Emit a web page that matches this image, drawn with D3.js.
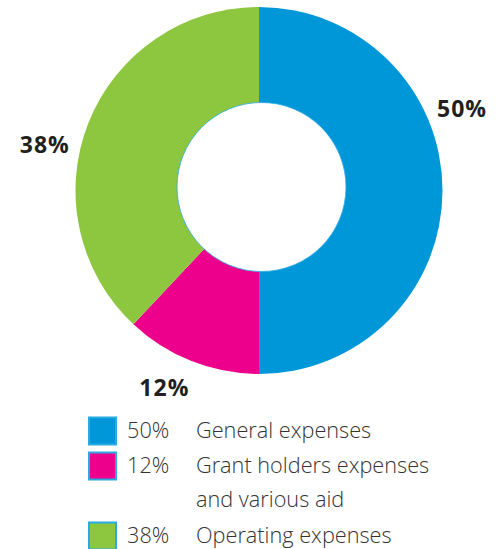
<!DOCTYPE html>
<html><head><meta charset="utf-8">
<script src="https://cdn.jsdelivr.net/npm/d3@7"></script>
<style>body{margin:0;background:#fff}svg{display:block}</style>
</head><body>
<svg id="c" width="500" height="549"></svg>
<script>
const categories = ["General expenses", "Grant holders expenses and various aid", "Operating expenses"];
const legendLines = [["General expenses"], ["Grant holders expenses", "and various aid"], ["Operating expenses"]];
const values = [50, 12, 38];
const colors = ["#0097D9", "#EC008C", "#8DC63F"];

const svg = d3.select("#c");
const cx = 259, cy = 190.5, R = 183.5;
const g = svg.append("g").attr("transform", `translate(${cx},${cy})`);
const pie = d3.pie().sort(null).value(d => d)(values);
const arc = d3.arc().innerRadius(0).outerRadius(R);
g.selectAll("path").data(pie).join("path")
  .attr("d", arc).attr("fill", (d, i) => colors[i]);
// hole
g.append("circle").attr("cx", 2.5).attr("cy", -3.5).attr("r", 84.5)
  .attr("fill", "#fff").attr("stroke", "#29ABE2").attr("stroke-width", 0.8);

// outside labels
const labelShift = [-22, 4, -9.6]; // degrees offset from mid-angle
const labelR = 219;
g.selectAll("text.lbl").data(pie).join("text").attr("class", "lbl")
  .each(function(d, i) {
    const a = (d.startAngle + d.endAngle) / 2 + labelShift[i] * Math.PI / 180;
    d3.select(this).attr("x", labelR * Math.sin(a)).attr("y", -labelR * Math.cos(a));
  })
  .attr("dy", "0.36em").attr("text-anchor", "middle")
  .attr("font-family", "'Open Sans', sans-serif").attr("font-weight", 700)
  .attr("font-size", 23).attr("letter-spacing", 1).attr("fill", "#231F20")
  .text(d => d.data + "%");

// legend
const rowY = [438, 473, 507, 543];
let row = 0;
const lg = svg.append("g");
const legFont = "'Open Sans', sans-serif";
legendLines.forEach((lines, i) => {
  const by = rowY[row];
  lg.append("rect").attr("x", 89).attr("y", by - 20.5).attr("width", 27).attr("height", 27)
    .attr("fill", colors[i]).attr("stroke", "#29ABE2").attr("stroke-width", 2);
  lg.append("text").attr("x", 127).attr("y", by)
    .attr("font-family", legFont).attr("font-weight", 300)
    .attr("font-size", 21.7).attr("fill", "#333").text(values[i] + "%");
  lines.forEach((ln, j) => {
    lg.append("text").attr("x", 196).attr("y", rowY[row + j])
      .attr("font-family", legFont).attr("font-weight", 300)
      .attr("font-size", 21.7).attr("fill", "#333").text(ln);
  });
  row += lines.length;
});
</script>
</body></html>
